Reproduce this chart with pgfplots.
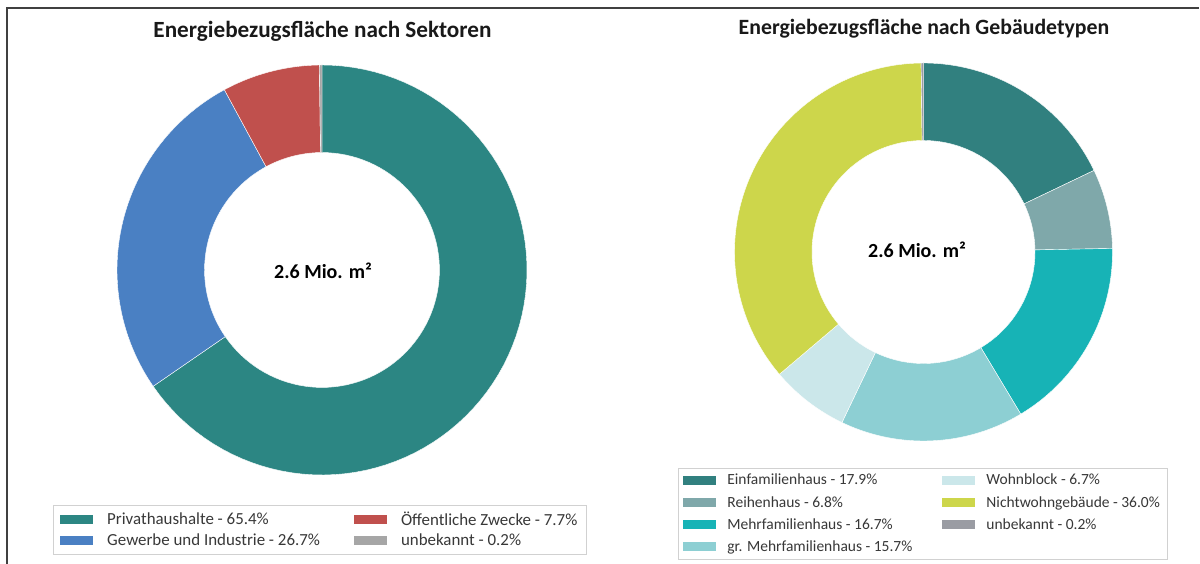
\documentclass[border=0pt]{standalone}
\usepackage{fontspec}
\setmainfont{Carlito}
\usepackage{pgfplots}
\usepackage{pgfplotstable}
\pgfplotsset{compat=1.18}

\definecolor{cPriv}{HTML}{2C8683}
\definecolor{cGew}{HTML}{4A80C3}
\definecolor{cOef}{HTML}{C0504D}
\definecolor{cUnb}{HTML}{A6A6A6}
\definecolor{cEfh}{HTML}{31807F}
\definecolor{cRh}{HTML}{7FA8AA}
\definecolor{cMfh}{HTML}{17B3B6}
\definecolor{cGmfh}{HTML}{8DCFD3}
\definecolor{cWb}{HTML}{CBE7EA}
\definecolor{cNwg}{HTML}{CDD64B}
\definecolor{cUnb2}{HTML}{9A9CA3}

\pgfplotstableread{
pct col
65.4 cPriv
26.7 cGew
7.7 cOef
0.2 cUnb
}\sektoren

\pgfplotstableread{
pct col
17.9 cEfh
6.8 cRh
16.7 cMfh
15.7 cGmfh
6.7 cWb
36.0 cNwg
0.2 cUnb2
}\gebaeude

\pgfplotsset{
  donut/.style={scale only axis, hide axis, clip=false,
    xmin=-1, xmax=1, ymin=-1, ymax=1, anchor=center,
    declare function={
      dang(\t,\a,\b) = (\t<=1) ? (\b+(\a-\b)*\t) : ((\t<=2) ? \a : (\a-(\a-\b)*(\t-2)));
      drad(\t,\r) = (\t<=1) ? 1 : ((\t<=2) ? (1-(1-\r)*(\t-1)) : \r);
    },
    legend image code/.code={\fill[##1, draw=none] (0pt,-4.5pt) rectangle (33pt,4.5pt);},
    legend style={draw=black!18, fill=white, text=black!78, legend columns=2},
    legend cell align=left,
  },
}

% draw the donut of table #1 with inner radius #2
\newcommand\donut[2]{%
  \def\cum{0}%
  \pgfplotstablegetrowsof{#1}%
  \pgfmathtruncatemacro\N{\pgfplotsretval-1}%
  \pgfplotsforeachungrouped \i in {0,...,\N}{%
    \pgfplotstablegetelem{\i}{pct}\of{#1}\let\p\pgfplotsretval
    \pgfplotstablegetelem{\i}{col}\of{#1}\let\c\pgfplotsretval
    \pgfmathsetmacro\aA{90-3.6*\cum}%
    \pgfmathsetmacro\aB{90-3.6*(\cum+\p)}%
    \edef\tmp{\noexpand\addplot[fill=\c, draw=white, line width=0.4pt, forget plot,
      domain=0:3, samples=241]
      ({drad(x,#2)*cos(dang(x,\aA,\aB))},{drad(x,#2)*sin(dang(x,\aA,\aB))}) -- cycle;}%
    \tmp
    \pgfmathsetmacro\cum{\cum+\p}%
  }%
}

\begin{document}
\begin{tikzpicture}
\useasboundingbox (0,0) rectangle (1200pt,564pt);
\draw[line width=1.6pt, black!75] (7pt,0pt) -- (7pt,556pt) -- (1199pt,556pt);

\node[font=\bfseries\fontsize{23.2}{27}\selectfont, text=black!90] at (322.5pt,533pt) {Energiebezugsfläche nach Sektoren};
\node[font=\bfseries\fontsize{21.8}{26}\selectfont, text=black!90] at (924pt,535pt) {Energiebezugsfläche nach Gebäudetypen};

\begin{axis}[donut, at={(322pt,294pt)}, width=410pt, height=410pt,
  legend style={at={(-0.156,-0.073)}, anchor=north west,
    font=\fontsize{16.9}{20}\selectfont, inner xsep=7pt, inner ysep=4.5pt, row sep=3.5pt,
    /tikz/every odd column/.append style={column sep=12pt},
    /tikz/every even column/.append style={column sep=32pt}}]
  \donut{\sektoren}{0.573}
  \addlegendimage{fill=cPriv}\addlegendentry{Privathaushalte - 65.4\%}
  \addlegendimage{fill=cOef}\addlegendentry{Öffentliche Zwecke - 7.7\%}
  \addlegendimage{fill=cGew}\addlegendentry{Gewerbe und Industrie - 26.7\%}
  \addlegendimage{fill=cUnb}\addlegendentry{unbekannt - 0.2\%}
\end{axis}

\begin{axis}[donut, at={(923.5pt,312pt)}, width=378pt, height=378pt,
  legend style={at={(-0.149,-0.071)}, anchor=north west,
    font=\fontsize{15.5}{18}\selectfont, inner xsep=5pt, inner ysep=4pt, row sep=6pt,
    /tikz/every odd column/.append style={column sep=9pt},
    /tikz/every even column/.append style={column sep=28pt}}]
  \donut{\gebaeude}{0.59}
  \addlegendimage{fill=cEfh}\addlegendentry{Einfamilienhaus - 17.9\%}
  \addlegendimage{fill=cWb}\addlegendentry{Wohnblock - 6.7\%}
  \addlegendimage{fill=cRh}\addlegendentry{Reihenhaus - 6.8\%}
  \addlegendimage{fill=cNwg}\addlegendentry{Nichtwohngebäude - 36.0\%}
  \addlegendimage{fill=cMfh}\addlegendentry{Mehrfamilienhaus - 16.7\%}
  \addlegendimage{fill=cUnb2}\addlegendentry{unbekannt - 0.2\%}
  \addlegendimage{fill=cGmfh}\addlegendentry{gr. Mehrfamilienhaus - 15.7\%}
\end{axis}

\node[font=\bfseries\fontsize{20}{24}\selectfont] at (323pt,293pt) {2.6 Mio. m²};
\node[font=\bfseries\fontsize{20}{24}\selectfont] at (917pt,314pt) {2.6 Mio. m²};
\end{tikzpicture}
\end{document}
